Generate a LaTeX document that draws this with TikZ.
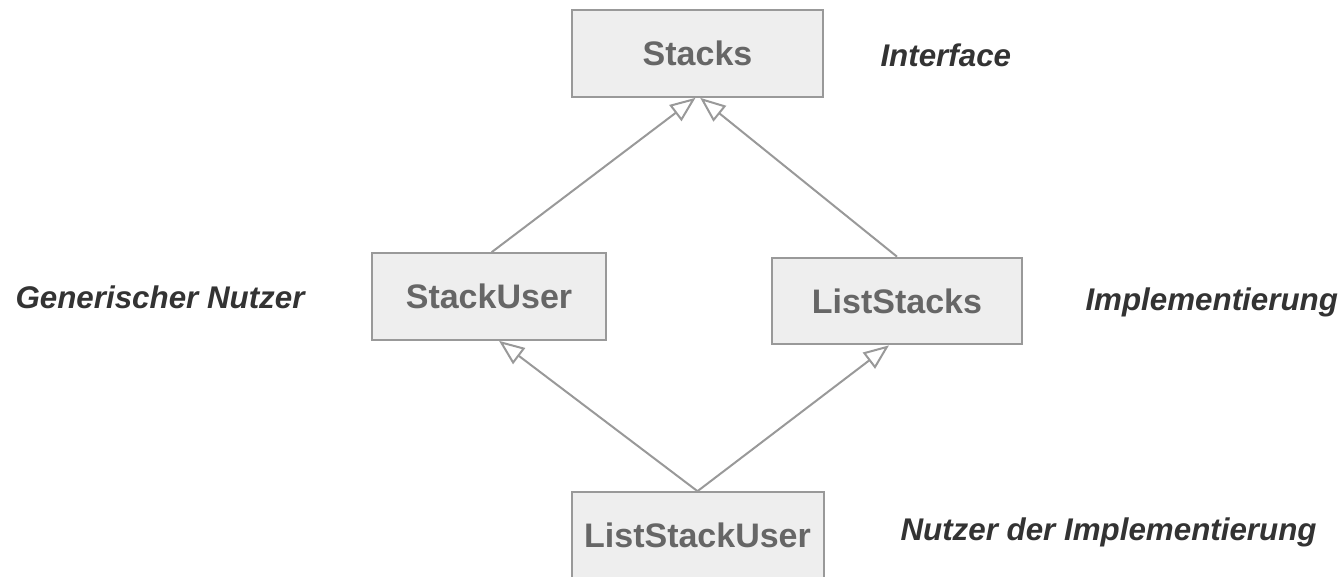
\documentclass[tikz,border=0pt]{standalone}
\usepackage{fontspec}
\setmainfont{Liberation Sans}
\usetikzlibrary{arrows.meta}
\definecolor{boxline}{RGB}{153,153,153}
\definecolor{boxfill}{RGB}{238,238,238}
\definecolor{boxtext}{RGB}{102,102,102}
\definecolor{notetext}{RGB}{51,51,51}
\tikzset{every picture/.style={line width=0.75pt}}
\tikzset{
  classbox/.style={draw=boxline, fill=boxfill, line width=1.5pt, text=boxtext,
    font=\fontsize{25.5}{30}\selectfont\bfseries, minimum height=65pt, inner sep=0pt},
  note/.style={anchor=west, inner sep=0pt, text=notetext,
    font=\fontsize{23.5}{28}\selectfont\bfseries\itshape},
  inherit/.style={draw=boxline, line width=1.5pt,
    -{Triangle[length=19pt, width=15pt, fill=white]}}
}

\begin{document}
\begin{tikzpicture}[x=0.75pt,y=0.75pt,yscale=-1,xscale=1]
\useasboundingbox (0,0) rectangle (1344,576);

%Shape: Rectangle [Stacks]
\node [classbox, minimum width=188pt] (st) at (697.5,53.5) {Stacks};
%Shape: Rectangle [StackUser]
\node [classbox, minimum width=176pt] (su) at (489,296.5) {StackUser};
%Shape: Rectangle [ListStacks]
\node [classbox, minimum width=188pt] (ls) at (897,301) {ListStacks};
%Shape: Rectangle [ListStackUser]
\node [classbox, minimum width=189pt] (lsu) at (697.5,535.5) {ListStackUser};

%Straight Lines
\draw [inherit] ([xshift=2pt]su.north) -- ([xshift=-1.5pt]st.south);
\draw [inherit] (ls.north) -- ([xshift=2pt]st.south);
\draw [inherit] (lsu.north) -- ([xshift=7.5pt]su.south);
\draw [inherit] (lsu.north) -- ([xshift=-6pt]ls.south);

% Text Node
\node [note] (nInterface) at (880,55) {Interface};
% Text Node
\node [note] (nGeneric) at (15,297) {Generischer Nutzer};
% Text Node
\node [note] (nImpl) at (1085,302) {Implementierung};
% Text Node
\node [note] (nImplUser) at (900,532) {Nutzer der Implementierung};

\end{tikzpicture}
\end{document}
